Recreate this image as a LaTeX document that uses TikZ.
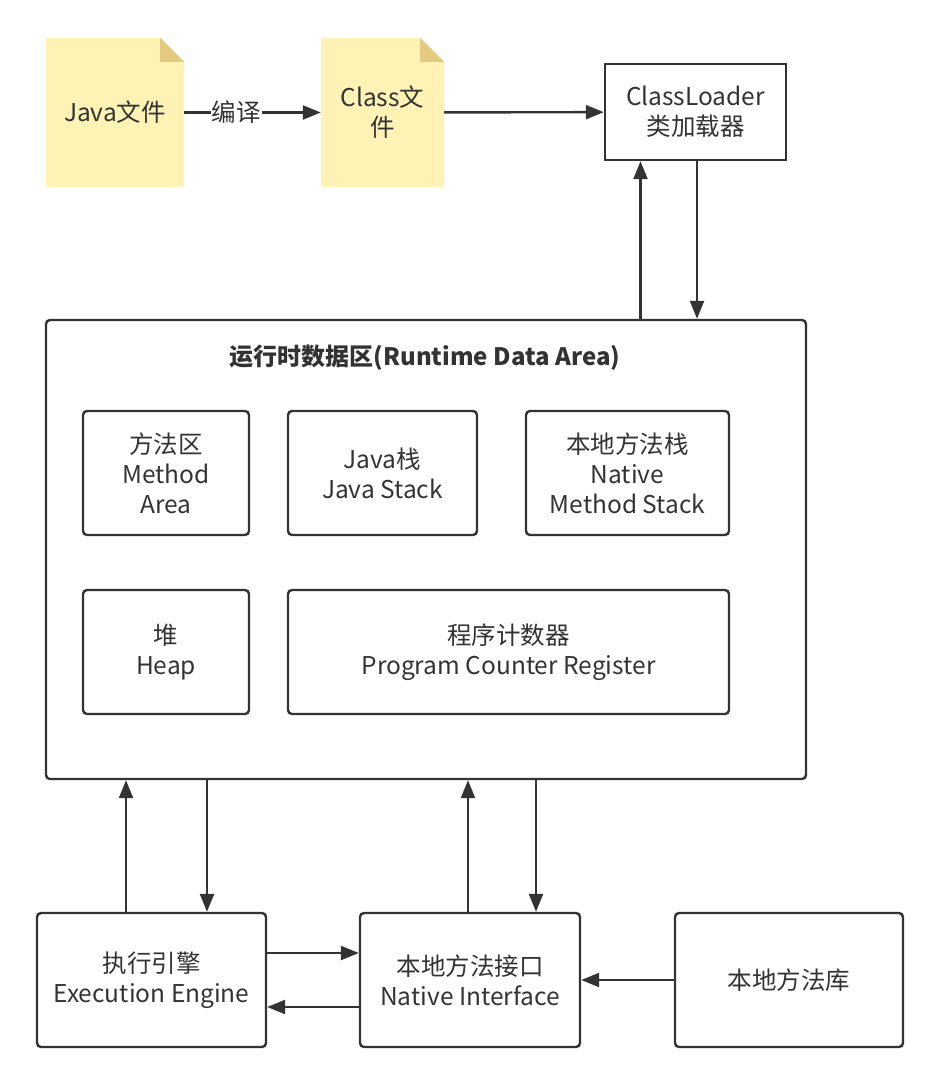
\documentclass[tikz,border=0pt]{standalone}
\usepackage{fontspec}
\setmainfont{Noto Sans CJK SC}
\usepackage{xcolor}
\usetikzlibrary{arrows.meta,positioning,backgrounds,calc}
\definecolor{ink}{HTML}{333333}
\definecolor{notefill}{HTML}{FEF3B5}
\definecolor{notefold}{HTML}{E3CA80}

\begin{document}
\begin{tikzpicture}[x=1pt,y=-1pt, font=\fontsize{24.5}{30}\selectfont, text=ink,
  box/.style={draw=ink,line width=2.4pt,rounded corners=4pt,align=center,inner sep=0pt,minimum width=#1},
  note/.style={align=center,inner sep=0pt,minimum width=#1,minimum height=149pt},
  arr/.style={-{Triangle[length=18pt,width=14pt]},draw=ink,line width=2.4pt}]
\useasboundingbox (0,0) rectangle (940,1085);
% source files
\node[note=138pt] (java) at (115,112.5) {Java文件};
\node[note=123pt] (cls) at (382.5,112.5) {Class文\\件};
\begin{scope}[on background layer]
\foreach \n in {java,cls} {
  \fill[notefill] (\n.south west) -- (\n.north west) -- ([xshift=-24pt]\n.north east)
    -- ([yshift=-24pt]\n.north east) -- (\n.south east) -- cycle;
  \fill[notefold] ([xshift=-24pt]\n.north east) -- ([yshift=-24pt]\n.north east)
    -- ([xshift=-24pt,yshift=-24pt]\n.north east) -- cycle;
}
\end{scope}
\node[box=181pt,rounded corners=0pt,minimum height=96pt] (loader) at (695.5,112) {ClassLoader\\类加载器};
% runtime data area
\node[box=760pt,minimum height=459pt] (rt) at (426,549.5) {};
\node[font=\fontsize{24}{30}\selectfont\bfseries] (title) at (425,358) {运行时数据区(Runtime Data Area)};
\node[box=166pt,minimum height=124pt] (ma) at (166,473) {方法区\\Method\\Area};
\node[box=189pt,minimum height=124pt] (js) at (382.5,473) {Java栈\\Java Stack};
\node[box=203pt,minimum height=124pt] (nms) at (627.5,473) {本地方法栈\\Native\\Method Stack};
\node[box=166pt,minimum height=124pt] (heap) at (166,652) {堆\\Heap};
\node[box=441pt,minimum height=124pt] (pc) at (508.5,652) {程序计数器\\Program Counter Register};
% engine and native side
\node[box=229pt,minimum height=134pt] (ee) at (151.5,980) {执行引擎\\Execution Engine};
\node[box=220pt,minimum height=134pt] (ni) at (470,980) {本地方法接口\\Native Interface};
\node[box=228pt,minimum height=134pt] (lib) at (789,980) {本地方法库};
% connectors
\draw[arr] (java) -- node[fill=white,inner sep=1pt,pos=0.38]{编译} (cls);
\draw[arr] (cls) -- (loader);
\draw[arr] ([xshift=-55pt]loader.south |- rt.north) -- ([xshift=-55pt]loader.south);
\draw[arr] ([xshift=1.5pt]loader.south) -- ([xshift=1.5pt]loader.south |- rt.north);
\draw[arr] ([xshift=-25.5pt]ee.north) -- ([xshift=-25.5pt]ee.north |- rt.south);
\draw[arr] ([xshift=55.5pt]ee.north |- rt.south) -- ([xshift=55.5pt]ee.north);
\draw[arr] ([xshift=-2pt]ni.north) -- ([xshift=-2pt]ni.north |- rt.south);
\draw[arr] ([xshift=66pt]ni.north |- rt.south) -- ([xshift=66pt]ni.north);
\draw[arr] ([yshift=27pt]ee.east) -- ([yshift=27pt]ee.east -| ni.west);
\draw[arr] ([yshift=-27pt]ni.west) -- ([yshift=-27pt]ni.west -| ee.east);
\draw[arr] (lib) -- (ni);
\end{tikzpicture}
\end{document}
